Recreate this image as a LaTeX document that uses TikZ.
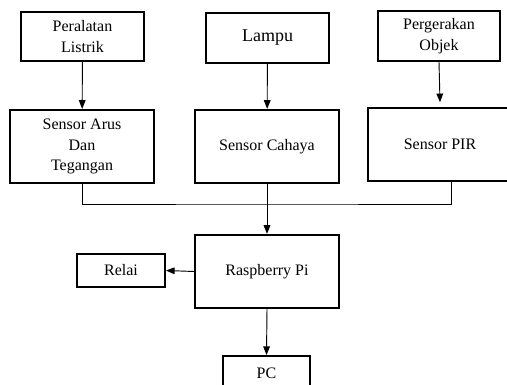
\documentclass[tikz,border=0pt]{standalone}
\usepackage{fontspec}
\setmainfont{Liberation Serif}
\usetikzlibrary{positioning,arrows.meta}

\tikzset{
    blok/.style={draw, line width=1.4pt, align=center, inner sep=0pt,
        font=\fontsize{12}{15.5}\selectfont},
    alur/.style={line width=0.7pt, -{Triangle[width=5pt,length=6.5pt]}},
}

\begin{document}
\begin{tikzpicture}[x=0.75pt, y=-0.75pt]
    \useasboundingbox (0,0) rectangle (507,385);
    \clip (0,0) rectangle (507,385);

    % Nodes
    \node (listrik) at (82.5,36.5) [blok, minimum width=92pt, minimum height=37pt] {Peralatan\\Listrik};
    \node (lampu) at (267.5,38) [blok, minimum width=92pt, minimum height=37.5pt, font=\fontsize{13.5}{16}\selectfont] {Lampu};
    \node (objek) at (439,36) [blok, minimum width=91.5pt, minimum height=37.5pt] {Pergerakan\\Objek};

    \node (arus) at (82,146.5) [blok, minimum width=108pt, minimum height=55pt] {Sensor Arus\\Dan\\Tegangan};
    \node (cahaya) at (267,146.5) [blok, minimum width=108pt, minimum height=55pt] {Sensor Cahaya};
    \node (pir) at (440,144.5) [blok, minimum width=108pt, minimum height=55pt] {Sensor PIR};

    \node (rpi) at (267,271.5) [blok, minimum width=108pt, minimum height=55pt] {Raspberry Pi};
    \node (relai) at (121,270.5) [blok, minimum width=66pt, minimum height=25pt] {Relai};
    \node (pc) at (266.5,373) [blok, minimum width=65pt, minimum height=25.5pt] {PC};

    \coordinate (bus) at (267,204);

    % Connectors
    \draw[alur] (listrik) -- (arus);
    \draw[alur] (lampu) -- (cahaya);
    \draw[alur] (objek.south) -- ([yshift=3.5pt]pir.north);

    \draw[line width=0.7pt] (arus.south) |- (bus) -| ([xshift=8.25pt]pir.south);
    \draw[alur] (cahaya.south) -- (rpi.north);
    \draw[alur] (rpi.west) -- (relai.east);
    \draw[alur] (rpi.south) -- (pc.north);
\end{tikzpicture}
\end{document}
